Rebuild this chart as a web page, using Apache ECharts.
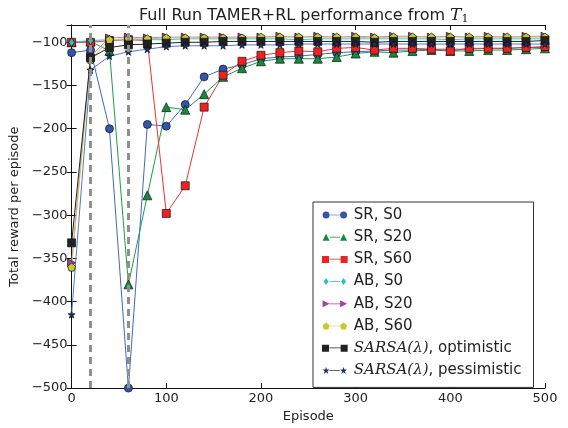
<!DOCTYPE html>
<html>
<head>
<meta charset="utf-8">
<script src="https://cdn.jsdelivr.net/npm/echarts@6/dist/echarts.min.js"></script>
<style>
    html, body { margin: 0; padding: 0; background: #fff; }
    #myCharts { width: 568px; height: 428px; }
</style>
</head>
<body>
<div id="myCharts"></div>
<script>
    // episodes on the x axis
    const episodes = [0, 20, 40, 60, 80, 100, 120, 140, 160, 180, 200, 220, 240, 260, 280, 300, 320, 340, 360, 380, 400, 420, 440, 460, 480, 500];

    const srS0  = [-112, -109, -200, -500, -195, -197, -172, -140, -131, -126, -119, -117, -116, -114, -112, -111, -110, -109, -109, -108, -108, -108, -107, -107, -106, -106];
    const srS20 = [-100, -99, -110, -380, -277, -175, -178, -160, -140, -130, -122, -119, -119, -119, -117, -113, -111, -112, -110, -109, -110, -110, -109, -109, -108, -107];
    const srS60 = [-100, -100, -98, -97, -98, -298, -266, -175, -138, -122, -115, -112, -110, -111, -107, -106, -109, -107, -107, -108, -110, -107, -107, -107, -106, -105];
    const abS0  = [-100, -98, -97, -97, -97, -97, -96, -96, -96, -96, -96, -96, -97, -96, -96, -96, -96, -96, -96, -96, -97, -96, -96, -96, -96, -96];
    const abS20 = [-355, -116, -95, -94, -95, -94, -94, -94, -94, -94, -94, -93, -94, -93, -94, -93, -94, -93, -93, -94, -93, -94, -93, -94, -93, -93];
    const abS60 = [-360, -120, -97, -96, -96, -95, -95, -95, -95, -95, -94, -94, -94, -94, -94, -94, -95, -94, -94, -94, -94, -94, -94, -94, -94, -94];
    const sarsaOpt  = [-332, -118, -106, -103, -102, -101, -100, -100, -99, -99, -99, -99, -99, -99, -99, -99, -100, -99, -99, -99, -99, -99, -99, -99, -99, -98];
    const sarsaPess = [-415, -132, -116, -111, -108, -105, -104, -104, -104, -103, -103, -103, -102, -102, -102, -102, -102, -102, -102, -102, -102, -102, -102, -102, -102, -102];

    // teaching stops at these episodes (dashed lines)
    const stopEpisodes = [20, 60];

    // marker shapes, drawn in an 8x8 box at offset ox (used for legend icons)
    const shapes = {
        circle: ox => `M${ox},4 A4,4 0 1,0 ${ox + 8},4 A4,4 0 1,0 ${ox},4 Z`,
        triangle: ox => `M${ox + 4},0 L${ox + 8},8 L${ox},8 Z`,
        square: ox => `M${ox},0.5 L${ox + 7.5},0.5 L${ox + 7.5},8 L${ox},8 Z`,
        diamond: ox => `M${ox + 4},0 L${ox + 6.8},4 L${ox + 4},8 L${ox + 1.2},4 Z`,
        right: ox => `M${ox},0 L${ox + 8},4 L${ox},8 Z`,
        pentagon: ox => `M${ox + 4},0 L${ox + 8},3 L${ox + 6.5},8 L${ox + 1.5},8 L${ox},3 Z`,
        star: ox => `M${ox + 4},0 L${ox + 5},2.9 L${ox + 8},3 L${ox + 5.6},4.9 L${ox + 6.5},8 L${ox + 4},6.2 L${ox + 1.5},8 L${ox + 2.4},4.9 L${ox},3 L${ox + 3},2.9 Z`
    };
    function legendIcon(shape) {
        return 'path://' + shapes[shape](0) + ' M8,3.6 L20,3.6 L20,4.4 L8,4.4 Z ' + shapes[shape](20);
    }
    function markerPath(shape) {
        return 'path://' + shapes[shape](0);
    }

    const seriesDefs = [
        {name: 'SR, S0', data: srS0, color: '#3355aa', line: '#4466bb', shape: 'circle', symbol: 'circle', size: 8},
        {name: 'SR, S20', data: srS20, color: '#138a3e', line: '#1e9a4a', shape: 'triangle', symbol: 'triangle', size: 9},
        {name: 'SR, S60', data: srS60, color: '#ee2222', line: '#ee3333', shape: 'square', symbol: 'rect', size: 8},
        {name: 'AB, S0', data: abS0, color: '#22c4c4', line: '#33cccc', shape: 'diamond', symbol: 'diamond', size: [6, 9]},
        {name: 'AB, S20', data: abS20, color: '#a8409c', line: '#cc77cc', shape: 'right', symbol: markerPath('right'), size: 8},
        {name: 'AB, S60', data: abS60, color: '#c8c830', line: '#cccc55', shape: 'pentagon', symbol: markerPath('pentagon'), size: 8},
        {name: 'SARSA(λ), optimistic', data: sarsaOpt, color: '#222222', line: '#222222', shape: 'square', symbol: 'rect', size: 8},
        {name: 'SARSA(λ), pessimistic', data: sarsaPess, color: '#1f2f70', line: '#5577cc', shape: 'star', symbol: markerPath('star'), size: 7}
    ];

    function minusFmt(v) {
        return String(v).replace('-', '\u2212');
    }

    const series = seriesDefs.map(function (d, k) {
        const s = {
            name: d.name,
            type: 'line',
            data: episodes.map((e, i) => [e, d.data[i]]),
            symbol: d.symbol,
            symbolSize: d.size,
            showAllSymbol: true,
            animation: false,
            itemStyle: {color: d.color, borderColor: '#111', borderWidth: 0.7},
            lineStyle: {color: d.line, width: 1}
        };
        if (k === seriesDefs.length - 1) {
            s.markLine = {
                silent: true,
                symbol: ['none', 'none'],
                label: {show: false},
                animation: false,
                lineStyle: {color: '#909090', type: [7, 5], width: 3},
                data: stopEpisodes.map(e => ({xAxis: e}))
            };
        }
        return s;
    });

    const axisFont = {fontFamily: 'DejaVu Sans', fontSize: 13, color: '#222'};

    const myCharts = echarts.init(document.getElementById('myCharts'));
    const options = {
        backgroundColor: '#fff',
        animation: false,
        title: {
            text: 'Full Run TAMER+RL performance from {t|T}{s|1}',
            left: 134,
            top: 1,
            textStyle: {
                fontFamily: 'DejaVu Sans', fontSize: 16, fontWeight: 'normal', color: '#222',
                rich: {
                    t: {fontFamily: 'DejaVu Serif', fontStyle: 'italic', fontSize: 17, color: '#222'},
                    s: {fontFamily: 'DejaVu Serif', fontSize: 11, color: '#222', padding: [8, 0, 0, 0]}
                }
            }
        },
        grid: {left: 70, right: 23, top: 25, bottom: 33},
        legend: {
            orient: 'vertical',
            left: 313,
            top: 202,
            padding: [5, 12, 9, 9],
            itemWidth: 28,
            itemHeight: 7,
            itemGap: 6.2,
            itemStyle: {borderWidth: 0},
            backgroundColor: '#fff',
            borderColor: '#333',
            borderWidth: 1,
            textStyle: {
                fontFamily: 'DejaVu Sans', fontSize: 15, color: '#222', lineHeight: 16,
                rich: {
                    i: {fontFamily: 'DejaVu Serif', fontStyle: 'italic', fontSize: 15, color: '#222', lineHeight: 16}
                }
            },
            formatter: function (name) {
                if (name.indexOf('SARSA(λ)') === 0) {
                    return '{i|SARSA(λ)}' + name.slice('SARSA(λ)'.length);
                }
                return name;
            },
            data: seriesDefs.map(d => ({name: d.name, icon: legendIcon(d.shape)}))
        },
        xAxis: [{
            type: 'value', min: 0, max: 500, interval: 100,
            name: 'Episode', nameLocation: 'middle', nameGap: 19,
            nameTextStyle: axisFont,
            axisLine: {lineStyle: {color: '#111', width: 1}},
            axisTick: {inside: true, length: 5, lineStyle: {color: '#111'}},
            axisLabel: Object.assign({margin: 4, formatter: minusFmt}, axisFont),
            splitLine: {show: false}
        }, {
            type: 'value', min: 0, max: 500, interval: 100, position: 'top',
            axisLine: {lineStyle: {color: '#111', width: 1}},
            axisTick: {inside: true, length: 5, lineStyle: {color: '#111'}},
            axisLabel: {show: false},
            splitLine: {show: false}
        }],
        yAxis: [{
            type: 'value', min: -500, max: -80, interval: 50,
            name: 'Total reward per episode', nameLocation: 'middle', nameGap: 37, nameRotate: 90,
            nameTextStyle: axisFont,
            axisLine: {lineStyle: {color: '#111', width: 1}},
            axisTick: {inside: true, length: 5, lineStyle: {color: '#111'}},
            axisLabel: Object.assign({margin: 4, showMaxLabel: false, formatter: minusFmt}, axisFont),
            splitLine: {show: false}
        }, {
            type: 'value', min: -500, max: -80, interval: 50, position: 'right',
            axisLine: {lineStyle: {color: '#111', width: 1}},
            axisTick: {inside: true, length: 5, lineStyle: {color: '#111'}},
            axisLabel: {show: false},
            splitLine: {show: false}
        }],
        series: series
    };
    myCharts.setOption(options);
</script>
</body>
</html>
